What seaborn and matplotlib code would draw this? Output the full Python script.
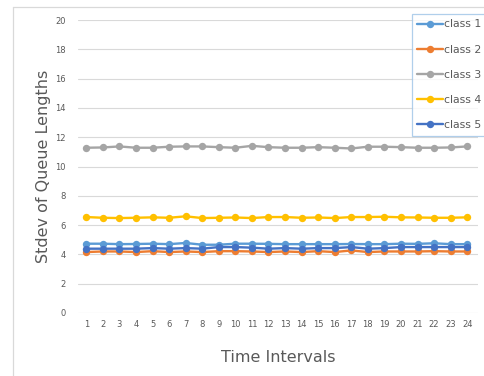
import pandas as pd
import matplotlib.pyplot as plt
import seaborn as sns
from matplotlib.lines import Line2D

# data
intervals = list(range(1, 25))
class_1 = [4.73, 4.73, 4.70, 4.71, 4.73, 4.70, 4.78, 4.66, 4.66, 4.73, 4.73, 4.72,
           4.70, 4.70, 4.70, 4.70, 4.71, 4.70, 4.70, 4.73, 4.72, 4.76, 4.70, 4.70]
class_2 = [4.16, 4.20, 4.20, 4.16, 4.22, 4.16, 4.20, 4.16, 4.22, 4.22, 4.20, 4.16,
           4.20, 4.16, 4.22, 4.16, 4.27, 4.16, 4.20, 4.20, 4.20, 4.22, 4.20, 4.20]
class_3 = [11.28, 11.30, 11.37, 11.28, 11.28, 11.35, 11.37, 11.37, 11.32, 11.28, 11.41, 11.32,
           11.28, 11.28, 11.32, 11.28, 11.23, 11.35, 11.35, 11.32, 11.28, 11.28, 11.30, 11.37]
class_4 = [6.55, 6.50, 6.48, 6.50, 6.53, 6.50, 6.60, 6.48, 6.50, 6.52, 6.48, 6.55,
           6.55, 6.50, 6.52, 6.48, 6.55, 6.55, 6.57, 6.53, 6.52, 6.50, 6.50, 6.53]
class_5 = [4.39, 4.39, 4.39, 4.39, 4.43, 4.39, 4.43, 4.39, 4.50, 4.50, 4.46, 4.39,
           4.43, 4.39, 4.43, 4.43, 4.50, 4.39, 4.43, 4.50, 4.50, 4.50, 4.50, 4.50]

names = ['class 1', 'class 2', 'class 3', 'class 4', 'class 5']
colors = ['#5B9BD5', '#ED7D31', '#A5A5A5', '#FFC000', '#4472C4']

df = pd.DataFrame({'interval': intervals, 'class 1': class_1, 'class 2': class_2,
                   'class 3': class_3, 'class 4': class_4, 'class 5': class_5})
long_df = df.melt(id_vars='interval', var_name='series', value_name='stdev')

sns.set_style('white')
plt.rcParams['font.family'] = ['DejaVu Sans']

fig = plt.figure(figsize=(4.84, 3.76), dpi=100)
ax = fig.add_axes([78 / 484, 1 - 313 / 376, 400 / 484, 293 / 376])

sns.lineplot(data=long_df, x='interval', y='stdev', hue='series', hue_order=names,
             palette=colors, marker='o', markersize=5.3, markeredgewidth=0,
             linewidth=1.7, ax=ax, legend=False)

ax.set_xlim(0.5, 24.65)
ax.set_ylim(0, 20)
ax.set_xticks(intervals)
ax.set_yticks(range(0, 21, 2))
ax.tick_params(axis='both', labelsize=6, colors='#595959', length=0)
ax.tick_params(axis='x', pad=5)
ax.tick_params(axis='y', pad=9)
ax.grid(axis='y', color='#D9D9D9', linewidth=0.8)
ax.grid(axis='x', visible=False)
for s in ax.spines.values():
    s.set_visible(False)

ax.set_xlabel('Time Intervals', fontsize=11.5, color='#595959', labelpad=15)
ax.set_ylabel('Stdev of Queue Lengths', fontsize=11.5, color='#595959', labelpad=3)

# legend
handles = [Line2D([0], [0], color=c, marker='o', markersize=5.3, markeredgewidth=0, linewidth=1.7)
           for c in colors]
leg = fig.legend(handles, names, loc='upper left', bbox_to_anchor=(412 / 484, 1 - 14 / 376),
                 borderaxespad=0, fontsize=7.8, handlelength=2.4, handletextpad=0.1,
                 labelspacing=1.4, borderpad=0.5, frameon=True, fancybox=False)
leg.get_frame().set_edgecolor('#9DC3E6')
leg.get_frame().set_linewidth(0.9)
for t in leg.get_texts():
    t.set_color('#595959')

# outer chart frame
fig.add_artist(Line2D([13 / 484, 13 / 484], [0, 1 - 7 / 376], color='#D9D9D9', linewidth=0.9))
fig.add_artist(Line2D([13 / 484, 1], [1 - 7 / 376, 1 - 7 / 376], color='#D9D9D9', linewidth=0.9))

fig.savefig('out.png', dpi=100)
